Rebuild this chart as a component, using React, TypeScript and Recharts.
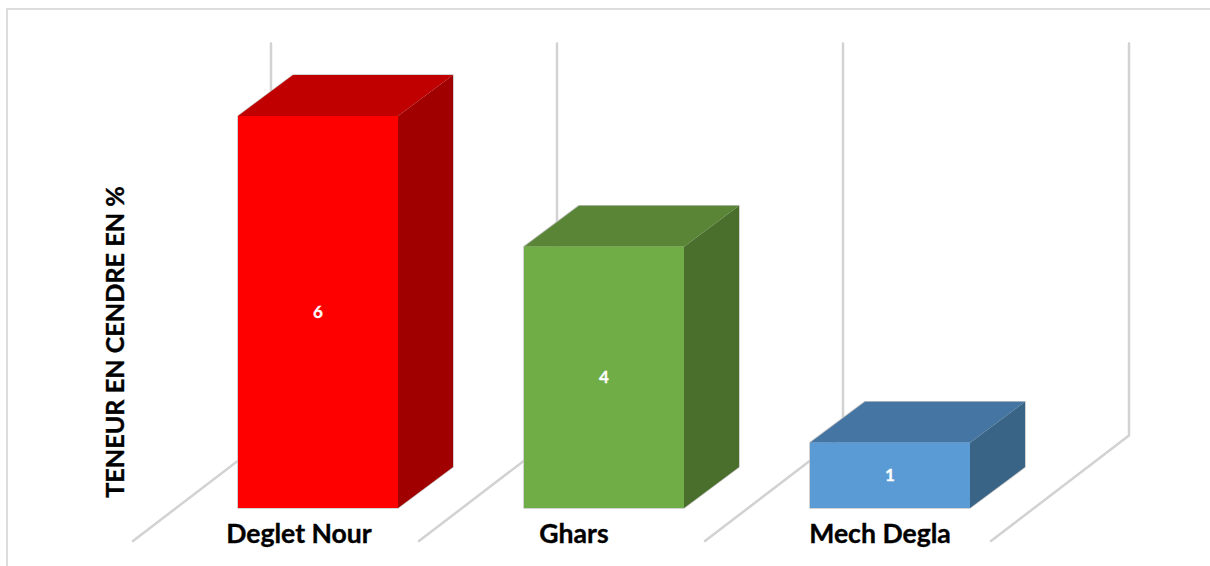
import React from 'react';
import { BarChart, Bar, XAxis, YAxis, LabelList } from 'recharts';

const categories = ['Deglet Nour', 'Ghars', 'Mech Degla'];
const ashContent = [6, 4, 1];
const yTicks = [0, 1, 2, 3, 4, 5, 6];
const yTitle = 'TENEUR EN CENDRE EN %';

const data = categories.map((name, i) => ({ name, value: ashContent[i] }));

const FONT = 'Lato, sans-serif';
const WIDTH = 1210;
const HEIGHT = 566;
const MARGIN = { top: 116, right: 177, bottom: 0, left: 0 };
const Y_AXIS_WIDTH = 175;
const X_AXIS_HEIGHT = 58;
const BAR_SIZE = 160;
const STEP = (WIDTH - MARGIN.right - Y_AXIS_WIDTH) / categories.length;
const Y_MAX = yTicks[yTicks.length - 1];

// extrusion of the bars and of the floor/wall lines
const DEPTH_X = 55;
const DEPTH_Y = 41;
const FLOOR_FRONT = { dx: -105, dy: 33 };
const FLOOR_BACK = { dx: 33, dy: -72.5 };

const faces = [
  { front: '#ff0000', top: '#c00000', side: '#a00000' },
  { front: '#70ad47', top: '#5a8537', side: '#4a6f2c' },
  { front: '#5b9bd5', top: '#4575a2', side: '#3a6486' },
];
const EDGE = '#c4c4c4';
const GRID = '#d2d2d2';

// the labels are not centred under the bars in the original
const tickNudge = [-19, -30, -10];

const GridLine = ({ x, bottom, unit }: { x: number; bottom: number; unit: number }) => {
  const backX = x + FLOOR_BACK.dx;
  const backY = bottom + FLOOR_BACK.dy;
  const points = [
    `${x + FLOOR_FRONT.dx},${bottom + FLOOR_FRONT.dy}`,
    `${backX},${backY}`,
    `${backX},${backY - unit * Y_MAX}`,
  ].join(' ');
  return <polyline points={points} fill="none" stroke={GRID} strokeWidth={2.5} strokeLinejoin="round" strokeLinecap="round" />;
};

const Bar3D = (props: any) => {
  const { x, y, width, height, index, value } = props;
  const c = faces[index];
  const right = x + width;
  const bottom = y + height;
  const unit = height / (Array.isArray(value) ? value[1] : value);
  const outline = `${x},${y} ${x + DEPTH_X},${y - DEPTH_Y} ${right + DEPTH_X},${y - DEPTH_Y} ${right + DEPTH_X},${bottom - DEPTH_Y} ${right},${bottom} ${x},${bottom}`;
  return (
    <g>
      <GridLine x={x} bottom={bottom} unit={unit} />
      {index === categories.length - 1 && <GridLine x={x + STEP} bottom={bottom} unit={unit} />}
      <polygon points={outline} fill="none" stroke={EDGE} strokeWidth={1.5} strokeLinejoin="round" />
      <polygon
        points={`${x},${y} ${x + DEPTH_X},${y - DEPTH_Y} ${right + DEPTH_X},${y - DEPTH_Y} ${right},${y}`}
        fill={c.top}
      />
      <polygon
        points={`${right},${y} ${right + DEPTH_X},${y - DEPTH_Y} ${right + DEPTH_X},${bottom - DEPTH_Y} ${right},${bottom}`}
        fill={c.side}
      />
      <rect x={x} y={y} width={width} height={height} fill={c.front} />
    </g>
  );
};

const CategoryTick = (props: any) => {
  const { x, y, payload, index } = props;
  return (
    <text
      x={x + tickNudge[index]}
      y={y + 29}
      textAnchor="middle"
      fontFamily={FONT}
      fontWeight={700}
      fontSize={26.6}
      fill="#000"
      stroke="#000"
      strokeWidth={0.35}
    >
      {payload.value}
    </text>
  );
};

const YTitle = () => (
  <text
    transform="translate(124 342) rotate(-90)"
    textAnchor="middle"
    fontFamily={FONT}
    fontWeight={700}
    fontSize={25.2}
    fill="#000"
    stroke="#000"
    strokeWidth={0.35}
  >
    {yTitle}
  </text>
);

export default function App() {
  return (
    <div style={{ position: 'absolute', left: 0, top: 0, width: WIDTH, height: HEIGHT, background: '#fff', overflow: 'hidden' }}>
      <div
        style={{
          position: 'absolute',
          left: 6,
          top: 8,
          right: -4,
          bottom: -4,
          borderTop: '2px solid #dcdcdc',
          borderLeft: '2px solid #dcdcdc',
        }}
      />
      <BarChart width={WIDTH} height={HEIGHT} data={data} margin={MARGIN} barSize={BAR_SIZE}>
        <XAxis
          dataKey="name"
          height={X_AXIS_HEIGHT}
          axisLine={false}
          tickLine={false}
          tick={<CategoryTick />}
          tickMargin={0}
          interval={0}
        />
        <YAxis
          width={Y_AXIS_WIDTH}
          domain={[0, Y_MAX]}
          ticks={yTicks}
          axisLine={false}
          tickLine={false}
          tick={false}
          label={<YTitle />}
        />
        <Bar dataKey="value" shape={<Bar3D />} isAnimationActive={false}>
          <LabelList dataKey="value" position="center" fill="#fff" stroke="#fff" strokeWidth={0.3} fontFamily={FONT} fontWeight={700} fontSize={17} />
        </Bar>
      </BarChart>
    </div>
  );
}
